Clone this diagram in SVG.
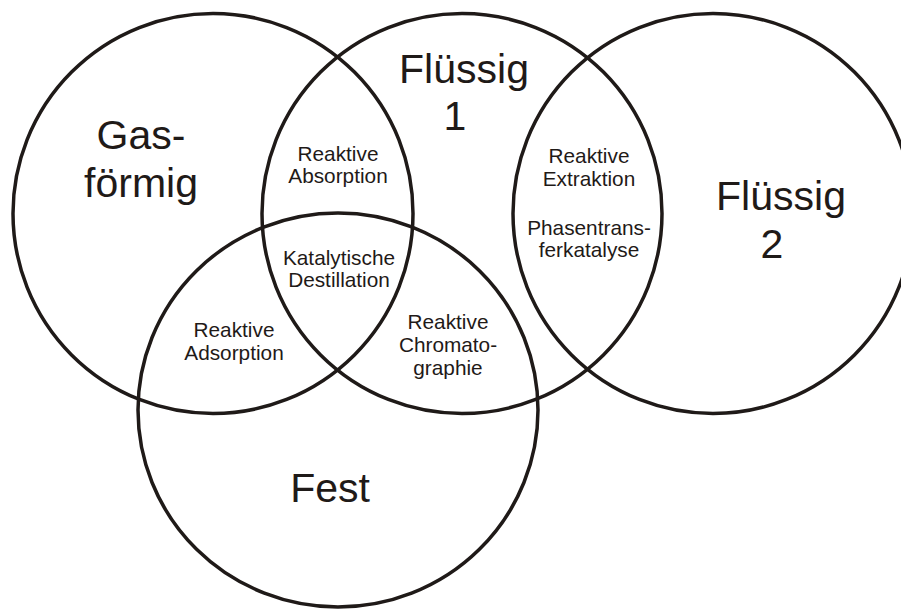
<svg xmlns="http://www.w3.org/2000/svg" width="901" height="610" viewBox="0 0 901 610">
  <style>
    .ring { fill: none; stroke: #1f1a18; stroke-width: 3.5; }
    text { font-family: "Liberation Sans", Arial, sans-serif; fill: #1f1a18; text-anchor: middle; }
    .big { font-size: 41px; }
    .small { font-size: 20.8px; }
  </style>
  <rect width="901" height="610" fill="#ffffff"/>

  <!-- phase circles -->
  <g id="gas">
    <circle class="ring" cx="213" cy="213.5" r="200"/>
    <text class="big" x="141" y="149">Gas-</text>
    <text class="big" x="141" y="197">förmig</text>
  </g>
  <g id="fluessig1">
    <circle class="ring" cx="462" cy="213.5" r="200"/>
    <text class="big" x="464" y="83">Flüssig</text>
    <text class="big" x="455" y="130">1</text>
  </g>
  <g id="fluessig2">
    <circle class="ring" cx="713" cy="213.5" r="200"/>
    <text class="big" x="781" y="210">Flüssig</text>
    <text class="big" x="772" y="258">2</text>
  </g>
  <g id="fest">
    <ellipse class="ring" cx="338" cy="410" rx="200" ry="197"/>
    <text class="big" x="330" y="502">Fest</text>
  </g>

  <!-- overlap labels -->
  <g id="absorption">
    <text class="small" x="338" y="161">Reaktive</text>
    <text class="small" x="338" y="183">Absorption</text>
  </g>
  <g id="destillation">
    <text class="small" x="339" y="265">Katalytische</text>
    <text class="small" x="339" y="287">Destillation</text>
  </g>
  <g id="extraktion">
    <text class="small" x="589" y="163">Reaktive</text>
    <text class="small" x="589" y="186">Extraktion</text>
    <text class="small" x="589" y="235">Phasentrans-</text>
    <text class="small" x="589" y="257">ferkatalyse</text>
  </g>
  <g id="adsorption">
    <text class="small" x="234" y="337">Reaktive</text>
    <text class="small" x="234" y="360">Adsorption</text>
  </g>
  <g id="chromatographie">
    <text class="small" x="448" y="329">Reaktive</text>
    <text class="small" x="448" y="352">Chromato-</text>
    <text class="small" x="448" y="375">graphie</text>
  </g>
</svg>
